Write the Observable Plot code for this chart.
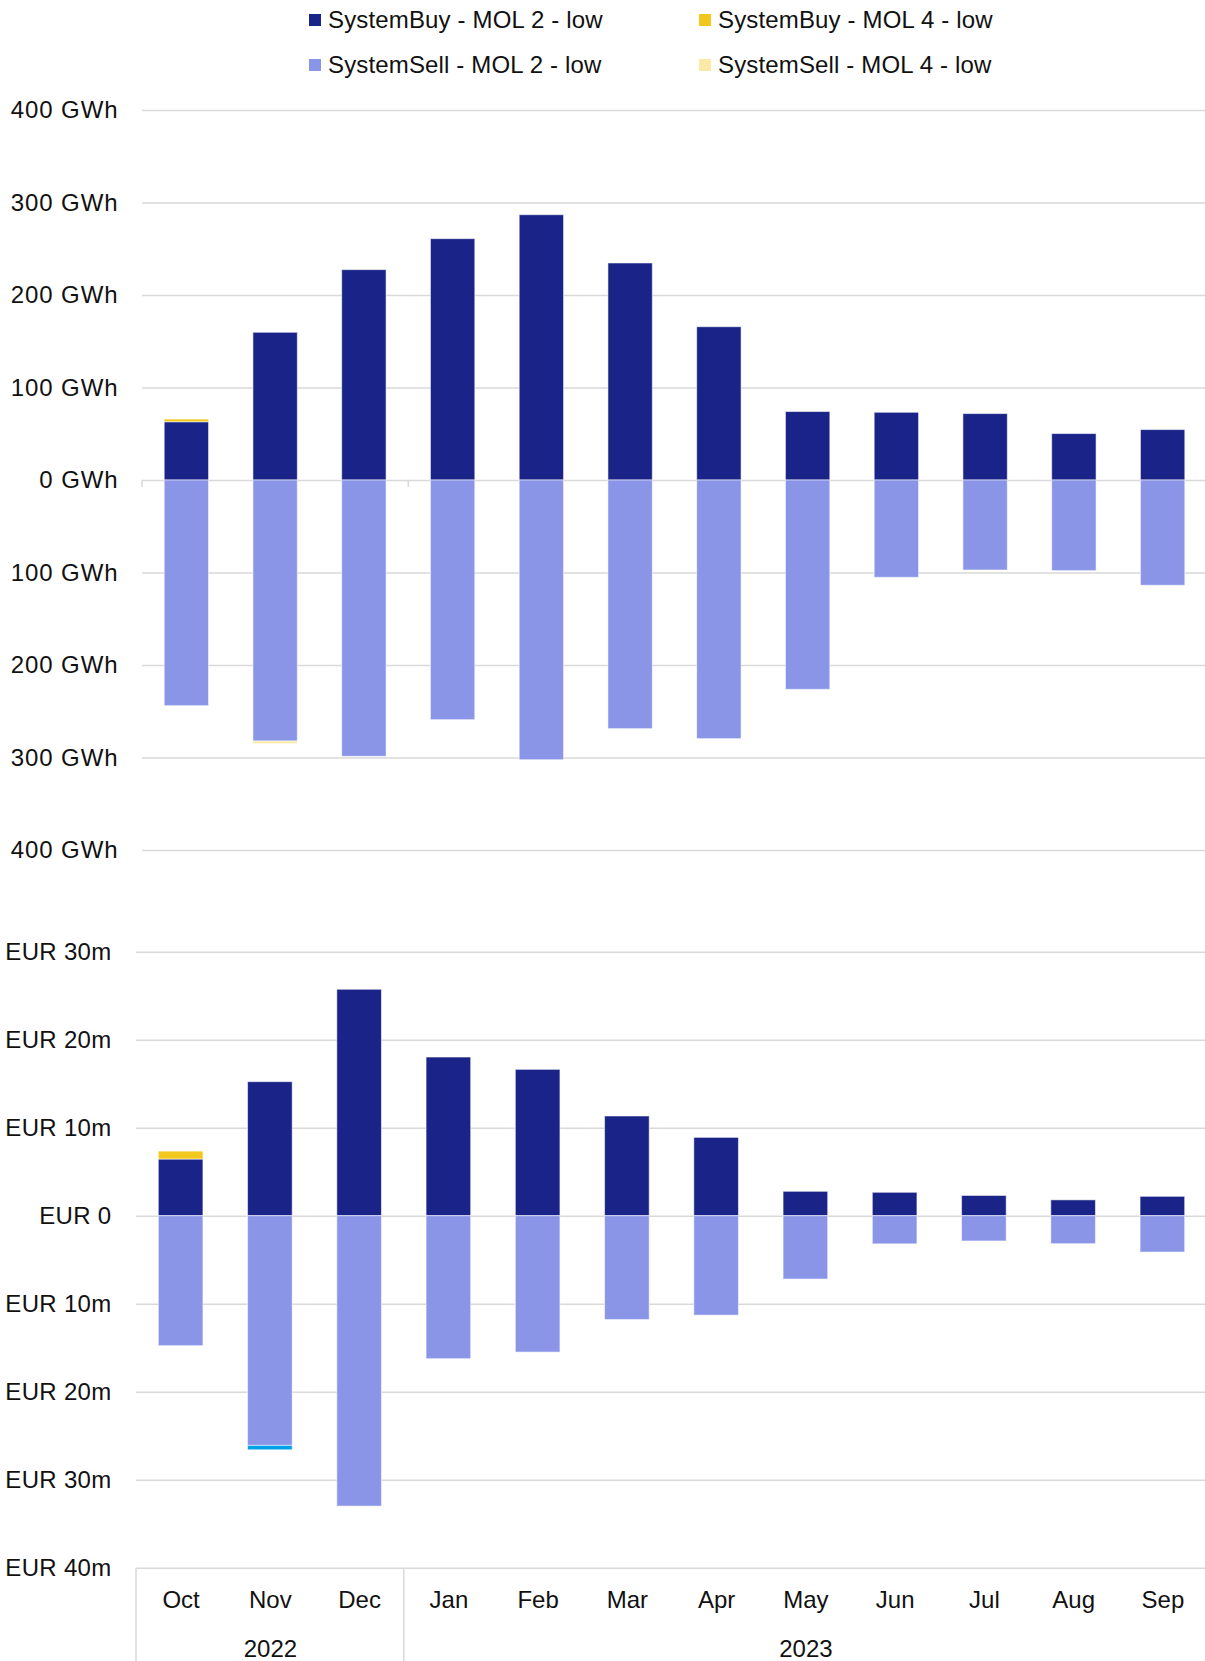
<!DOCTYPE html>
<html>
<head>
<meta charset="utf-8">
<script src="https://cdn.jsdelivr.net/npm/d3@7"></script>
<script src="https://cdn.jsdelivr.net/npm/@observablehq/plot@0.6"></script>
<style>
  html, body { margin: 0; padding: 0; background: #fff; }
  #page { position: relative; width: 1205px; height: 1661px; overflow: hidden;
          font-family: "Liberation Sans", Arial, sans-serif; color: #111; }
  .legend-item { position: absolute; display: flex; align-items: center; font-size: 24px;
                 line-height: 1; white-space: nowrap; letter-spacing: 0.15px; }
  .legend-swatch { width: 12px; height: 12px; margin-right: 7px; flex: none; }
  .chart { position: absolute; left: 0; }
  .energy-axis text { letter-spacing: 0.9px; }
  .cost-axis text { letter-spacing: 0.3px; }
</style>
</head>
<body>
<div id="page"></div>
<script>
// Months of the gas year Oct 2022 – Sep 2023
const months = ["Oct", "Nov", "Dec", "Jan", "Feb", "Mar", "Apr", "May", "Jun", "Jul", "Aug", "Sep"];
const yearLabels = ["2022", "2023"];
const yearFirstMonth = ["Oct", "Jan"];
const yearMidMonth = ["Nov", "May"];

// Series names and fills
const seriesNames = [
  "SystemBuy - MOL 2 - low",
  "SystemBuy - MOL 4 - low",
  "SystemSell - MOL 2 - low",
  "SystemSell - MOL 4 - low",
  "SystemSell - other"
];
const seriesColors = ["#1a2387", "#f2c81e", "#8a95e8", "#fbe9a6", "#00a2e5"];
const legendSeries = seriesNames.slice(0, 4);

// Balancing energy, GWh (sell volumes negative)
const energyBuyMol2  = [63, 159.7, 227.4, 260.9, 286.8, 234.6, 165.7, 74, 73.2, 71.8, 50.2, 54.5];
const energyBuyMol4  = [2.9, 0, 0, 0, 0, 0, 0, 0, 0, 0, 0, 0];
const energySellMol2 = [-244, -282.2, -298.7, -259.1, -302.4, -268.8, -279.6, -226.3, -105.2, -97.3, -98, -113.8];
const energySellMol4 = [0, -2.8, 0, 0, 0, 0, 0, 0, 0, 0, 0, 0];
const energySellOther = [0, 0, 0, 0, 0, 0, 0, 0, 0, 0, 0, 0];

// Balancing cost, EUR million (sell values negative)
const costBuyMol2  = [6.44, 15.23, 25.73, 18.03, 16.63, 11.33, 8.9, 2.77, 2.66, 2.3, 1.8, 2.2];
const costBuyMol4  = [0.9, 0, 0, 0, 0, 0, 0, 0, 0, 0, 0, 0];
const costSellMol2 = [-14.77, -26.1, -33.0, -16.25, -15.5, -11.8, -11.3, -7.2, -3.2, -2.87, -3.18, -4.13];
const costSellMol4 = [0, 0, 0, 0, 0, 0, 0, 0, 0, 0, 0, 0];
const costSellOther = [0, -0.5, 0, 0, 0, 0, 0, 0, 0, 0, 0, 0];

// Axis ticks
const energyTicks = [400, 300, 200, 100, 0, -100, -200, -300, -400];
const costTicks = [30, 20, 10, 0, -10, -20, -30, -40];

function toRows(seriesArrays) {
  const rows = [];
  seriesArrays.forEach((values, s) => {
    values.forEach((v, i) => {
      if (v !== 0) rows.push({ month: months[i], series: seriesNames[s], value: v });
    });
  });
  return rows;
}

const energyRows = toRows([energyBuyMol2, energyBuyMol4, energySellMol2, energySellMol4, energySellOther]);
const costRows = toRows([costBuyMol2, costBuyMol4, costSellMol2, costSellMol4, costSellOther]);
const yearRows = yearLabels.map((y, i) => ({ year: y, first: yearFirstMonth[i], mid: yearMidMonth[i] }));

const page = document.getElementById("page");
const FONT = '"Liberation Sans", Arial, sans-serif';
const GRID = "#d9d9d9";
const PLOT_WIDTH = 1207; // the last band runs slightly past the page edge

// Legend, two rows by two columns
const legendPos = [[309, 8], [699, 8], [309, 52.6], [699, 52.6]];
legendSeries.forEach((name, i) => {
  const item = document.createElement("div");
  item.className = "legend-item";
  item.style.left = legendPos[i][0] + "px";
  item.style.top = legendPos[i][1] + "px";
  const sw = document.createElement("span");
  sw.className = "legend-swatch";
  sw.style.background = seriesColors[seriesNames.indexOf(name)];
  const tx = document.createElement("span");
  tx.textContent = name;
  item.append(sw, tx);
  page.append(item);
});

const colorScale = { domain: seriesNames, range: seriesColors };
const barStyle = { stroke: "#ffffff", strokeOpacity: 0.55, strokeWidth: 1 };
const xBand = { type: "band", domain: months, paddingInner: 0.5, paddingOuter: 0.25, round: false, axis: null };
const svgStyle = { fontFamily: FONT, fontSize: "24px", color: "#111", background: "transparent", maxWidth: "none", overflow: "visible" };

// Energy chart
const energyPlot = Plot.plot({
  width: PLOT_WIDTH,
  height: 780,
  marginLeft: 142,
  marginRight: 0,
  marginTop: 20,
  marginBottom: 20,
  style: svgStyle,
  x: xBand,
  y: { domain: [-400, 400], label: null },
  color: colorScale,
  marks: [
    Plot.gridY(energyTicks, { stroke: GRID, strokeOpacity: 1, strokeWidth: 1.5 }),
    Plot.axisY(energyTicks, {
      tickSize: 0, tickPadding: 24, fontSize: 24, fill: "#111", className: "energy-axis",
      tickFormat: d => `${Math.abs(d)} GWh`, label: null
    }),
    Plot.barY(energyRows, { x: "month", y: "value", fill: "series", ...barStyle })
  ]
});
energyPlot.classList.add("chart");
energyPlot.style.top = "90px";
page.append(energyPlot);

// Cost chart
const costPlot = Plot.plot({
  width: PLOT_WIDTH,
  height: 731,
  marginLeft: 136,
  marginRight: 0,
  marginTop: 21.7,
  marginBottom: 93.3,
  style: svgStyle,
  x: xBand,
  y: { domain: [-40, 30], label: null },
  color: colorScale,
  marks: [
    Plot.gridY(costTicks, { stroke: GRID, strokeOpacity: 1, strokeWidth: 1.5 }),
    Plot.axisY(costTicks, {
      tickSize: 0, tickPadding: 25, fontSize: 24, fill: "#111", className: "cost-axis",
      tickFormat: d => d === 0 ? "EUR 0" : `EUR ${Math.abs(d)}m`, label: null
    }),
    Plot.barY(costRows, { x: "month", y: "value", fill: "series", ...barStyle }),
    Plot.text(months, { x: d => d, text: d => d, frameAnchor: "bottom", dy: 32.3, lineAnchor: "middle", fontSize: 24, fill: "#111" }),
    Plot.text(yearRows, { x: "mid", text: "year", frameAnchor: "bottom", dy: 81, lineAnchor: "middle", fontSize: 24, fill: "#111" })
  ]
});
costPlot.classList.add("chart");
costPlot.style.top = "930px";
page.append(costPlot);

// Category-axis decorations: year separators below the cost chart,
// short ticks under the zero line of the energy chart.
function bandStart(plot, month) {
  const sx = plot.scale("x");
  const band = d3.scaleBand().domain(sx.domain).range(sx.range)
    .paddingInner(0.5).paddingOuter(0.25);
  return band(month) - band.step() * 0.25;
}

{
  const svg = d3.select(costPlot);
  const sy = costPlot.scale("y");
  const yBottom = d3.scaleLinear().domain(sy.domain).range(sy.range)(-40);
  yearRows.forEach(r => {
    const x = bandStart(costPlot, r.first);
    svg.append("line")
      .attr("x1", x).attr("x2", x)
      .attr("y1", yBottom).attr("y2", 731)
      .attr("stroke", GRID).attr("stroke-width", 1.5);
  });
}
{
  const svg = d3.select(energyPlot);
  const sy = energyPlot.scale("y");
  const y0 = d3.scaleLinear().domain(sy.domain).range(sy.range)(0);
  yearRows.forEach(r => {
    const x = bandStart(energyPlot, r.first);
    svg.append("line")
      .attr("x1", x).attr("x2", x)
      .attr("y1", y0).attr("y2", y0 + 7)
      .attr("stroke", GRID).attr("stroke-width", 1.5);
  });
}
</script>
</body>
</html>
